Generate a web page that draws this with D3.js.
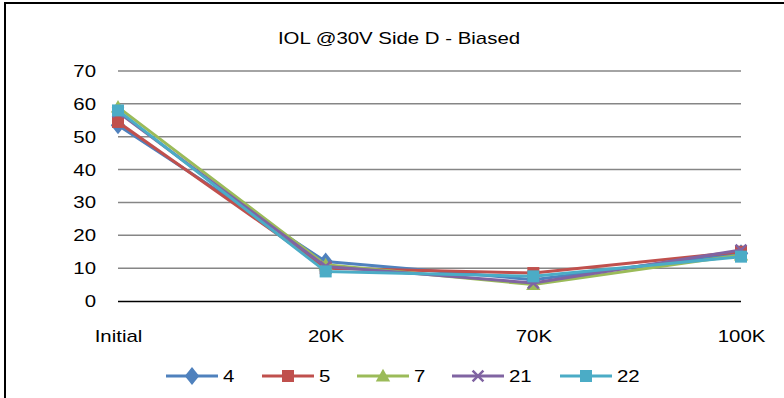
<!DOCTYPE html>
<html><head><meta charset="utf-8">
<script src="https://cdn.jsdelivr.net/npm/d3@7"></script>
<style>html,body{margin:0;padding:0;background:#fff;}svg{display:block;font-family:"Liberation Sans",Arial,sans-serif;}</style>
</head><body>
<svg id="c" width="784" height="398"></svg>
<script>
const categories = ["Initial","20K","70K","100K"];
const seriesNames = ["4","5","7","21","22"];
const s4  = [53.5, 12, 6.5, 14.5];
const s5  = [54.5, 10, 8.5, 15];
const s7  = [59, 11, 5, 14];
const s21 = [57.5, 10.5, 5.5, 15.5];
const s22 = [58, 9, 7.5, 13.5];
const yTicks = [0,10,20,30,40,50,60,70];
const title = "IOL @30V Side D - Biased";

const colors = ["#4F81BD","#C0504D","#9BBB59","#8064A2","#4BACC6"];
const shapes = ["diamond","square","triangle","x","square"];
const series = [s4,s5,s7,s21,s22].map((v,i)=>({name:seriesNames[i],values:v,color:colors[i],shape:shapes[i]}));

const FS = 17, STRETCH = 1.2;
function stretch(sel){
  sel.each(function(){
    const w = this.getComputedTextLength();
    d3.select(this).attr("textLength", w*STRETCH).attr("lengthAdjust","spacingAndGlyphs");
  });
}

const svg = d3.select("#c");
svg.append("rect").attr("x",5).attr("y",3).attr("width",800).attr("height",420)
  .attr("fill","#fff").attr("stroke","#000").attr("stroke-width",2);

const x = d3.scalePoint().domain(categories).range([118,741]);
const y = d3.scaleLinear().domain([0,70]).range([301,71]);

svg.append("text").attr("x",399).attr("y",44).attr("text-anchor","middle")
  .attr("font-size",FS).attr("fill","#000").text(title).call(stretch);

// gridlines
svg.append("g").selectAll("line").data(yTicks.filter(d=>d>0)).join("line")
  .attr("x1",118).attr("x2",741).attr("y1",d=>y(d)).attr("y2",d=>y(d))
  .attr("stroke","#868686").attr("stroke-width",1.5);

// y axis labels
const ya = svg.append("g").attr("transform","translate(118,0)")
  .call(d3.axisLeft(y).tickValues(yTicks).tickSize(0).tickPadding(22));
ya.select(".domain").remove();
ya.selectAll("text").attr("font-size",FS).attr("fill","#000").attr("font-family","'Liberation Sans',Arial,sans-serif").call(stretch);

// x axis
const xa = svg.append("g").attr("transform","translate(0,301)")
  .call(d3.axisBottom(x).tickSize(0).tickPadding(29));
xa.select(".domain").attr("stroke","#000").attr("stroke-width",1.5).attr("d","M118,0.5H741");
xa.selectAll("text").attr("font-size",FS).attr("fill","#000").attr("font-family","'Liberation Sans',Arial,sans-serif").call(stretch);

function marker(g, shape, color, cx, cy, s){
  if(shape==="diamond"){
    g.append("path").attr("d",`M${cx},${cy-s*0.75}L${cx+s*0.6},${cy}L${cx},${cy+s*0.75}L${cx-s*0.6},${cy}Z`).attr("fill",color);
  } else if(shape==="square"){
    g.append("rect").attr("x",cx-s/2).attr("y",cy-s/2).attr("width",s).attr("height",s).attr("fill",color);
  } else if(shape==="triangle"){
    g.append("path").attr("d",`M${cx},${cy-s*0.6}L${cx+s*0.6},${cy+s*0.45}L${cx-s*0.6},${cy+s*0.45}Z`).attr("fill",color);
  } else if(shape==="x"){
    const h=s*0.45;
    g.append("path").attr("d",`M${cx-h},${cy-h}L${cx+h},${cy+h}M${cx+h},${cy-h}L${cx-h},${cy+h}`)
      .attr("stroke",color).attr("stroke-width",2.5).attr("fill","none");
  }
}

const line = d3.line().x((d,i)=>x(categories[i])).y(d=>y(d));
series.forEach(s=>{
  const g = svg.append("g");
  g.append("path").datum(s.values).attr("d",line).attr("fill","none")
    .attr("stroke",s.color).attr("stroke-width",3).attr("stroke-linejoin","round");
  s.values.forEach((v,i)=>marker(g,s.shape,s.color,x(categories[i]),y(v),12));
});

// legend
const legX = [166,262,357,452,560];
const legY = 376;
series.forEach((s,i)=>{
  const g = svg.append("g");
  const x0 = legX[i];
  g.append("line").attr("x1",x0).attr("x2",x0+52).attr("y1",legY).attr("y2",legY)
    .attr("stroke",s.color).attr("stroke-width",3);
  marker(g,s.shape,s.color,x0+26,legY,12);
  g.append("text").attr("x",x0+57).attr("y",legY+6).attr("font-size",FS).attr("fill","#000").text(s.name).call(stretch);
});
</script>
</body></html>
